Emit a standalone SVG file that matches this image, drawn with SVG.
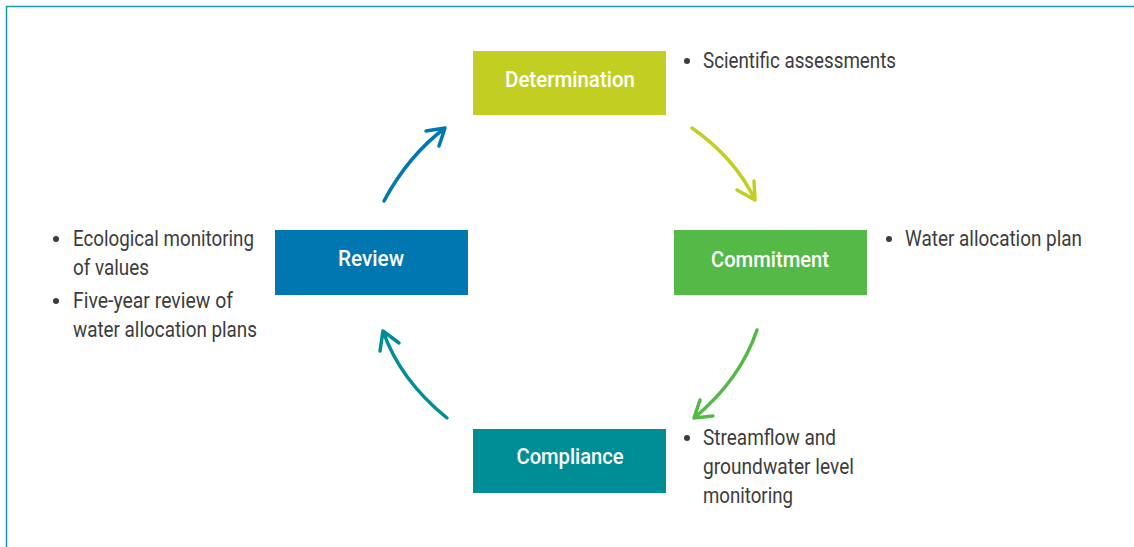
<svg xmlns="http://www.w3.org/2000/svg" width="1134" height="547" viewBox="0 0 1134 547">
<style>
.lbl{font-family:Roboto,"Liberation Sans",sans-serif;font-size:22px;font-weight:500;fill:#fff}
.txt{font-family:Roboto,"Liberation Sans",sans-serif;font-size:22px;fill:#3c3c3c}
.arr{fill:none;stroke-width:3.5;stroke-linecap:round;stroke-linejoin:round}
</style>
<rect x="0" y="0" width="1134" height="547" fill="#fff"/>
<path d="M6.5 547 V6.5 H1134" fill="none" stroke="#1a9ba8" stroke-width="1.5"/>
<g id="determination">
<rect x="473" y="51" width="193" height="64" fill="#c2cf22"/>
<text class="lbl" x="570" y="87" text-anchor="middle" textLength="130" lengthAdjust="spacingAndGlyphs">Determination</text>
<circle cx="687" cy="61" r="3" fill="#3c3c3c"/>
<text class="txt" x="703" y="68" textLength="193" lengthAdjust="spacingAndGlyphs">Scientific assessments</text>
</g>
<g id="commitment">
<rect x="674" y="230" width="193" height="65" fill="#55b947"/>
<text class="lbl" x="770" y="267" text-anchor="middle" textLength="118" lengthAdjust="spacingAndGlyphs">Commitment</text>
<circle cx="889" cy="239" r="3" fill="#3c3c3c"/>
<text class="txt" x="905" y="246" textLength="177" lengthAdjust="spacingAndGlyphs">Water allocation plan</text>
</g>
<g id="review">
<rect x="275" y="230" width="193" height="65" fill="#0077b0"/>
<text class="lbl" x="371" y="266" text-anchor="middle" textLength="66" lengthAdjust="spacingAndGlyphs">Review</text>
<circle cx="56" cy="239" r="3" fill="#3c3c3c"/>
<text class="txt" x="73" y="246" textLength="181" lengthAdjust="spacingAndGlyphs">Ecological monitoring</text>
<text class="txt" x="73" y="275" textLength="76" lengthAdjust="spacingAndGlyphs">of values</text>
<circle cx="56" cy="301" r="3" fill="#3c3c3c"/>
<text class="txt" x="73" y="308" textLength="160" lengthAdjust="spacingAndGlyphs">Five-year review of</text>
<text class="txt" x="73" y="337" textLength="184" lengthAdjust="spacingAndGlyphs">water allocation plans</text>
</g>
<g id="compliance">
<rect x="473" y="429" width="193" height="64" fill="#008e96"/>
<text class="lbl" x="570" y="464" text-anchor="middle" textLength="107" lengthAdjust="spacingAndGlyphs">Compliance</text>
<circle cx="687" cy="438" r="3" fill="#3c3c3c"/>
<text class="txt" x="703" y="445" textLength="133" lengthAdjust="spacingAndGlyphs">Streamflow and</text>
<text class="txt" x="703" y="474" textLength="151" lengthAdjust="spacingAndGlyphs">groundwater level</text>
<text class="txt" x="703" y="503" textLength="90" lengthAdjust="spacingAndGlyphs">monitoring</text>
</g>
<g id="connectors">
<path class="arr" stroke="#0077b0" d="M384 201 Q408 156 445 128 M426 131 L445 128 L439 146"/>
<path class="arr" stroke="#c2cf22" d="M692 128 Q735 158 755 200 M737 190 L755 200 L754 181"/>
<path class="arr" stroke="#55b947" d="M757 330 Q740 380 694 418 M700 400 L694 418 L713 416"/>
<path class="arr" stroke="#008e96" d="M447 418 Q400 380 383 331 M380 351 L383 331 L399 343"/>
</g>
</svg>
